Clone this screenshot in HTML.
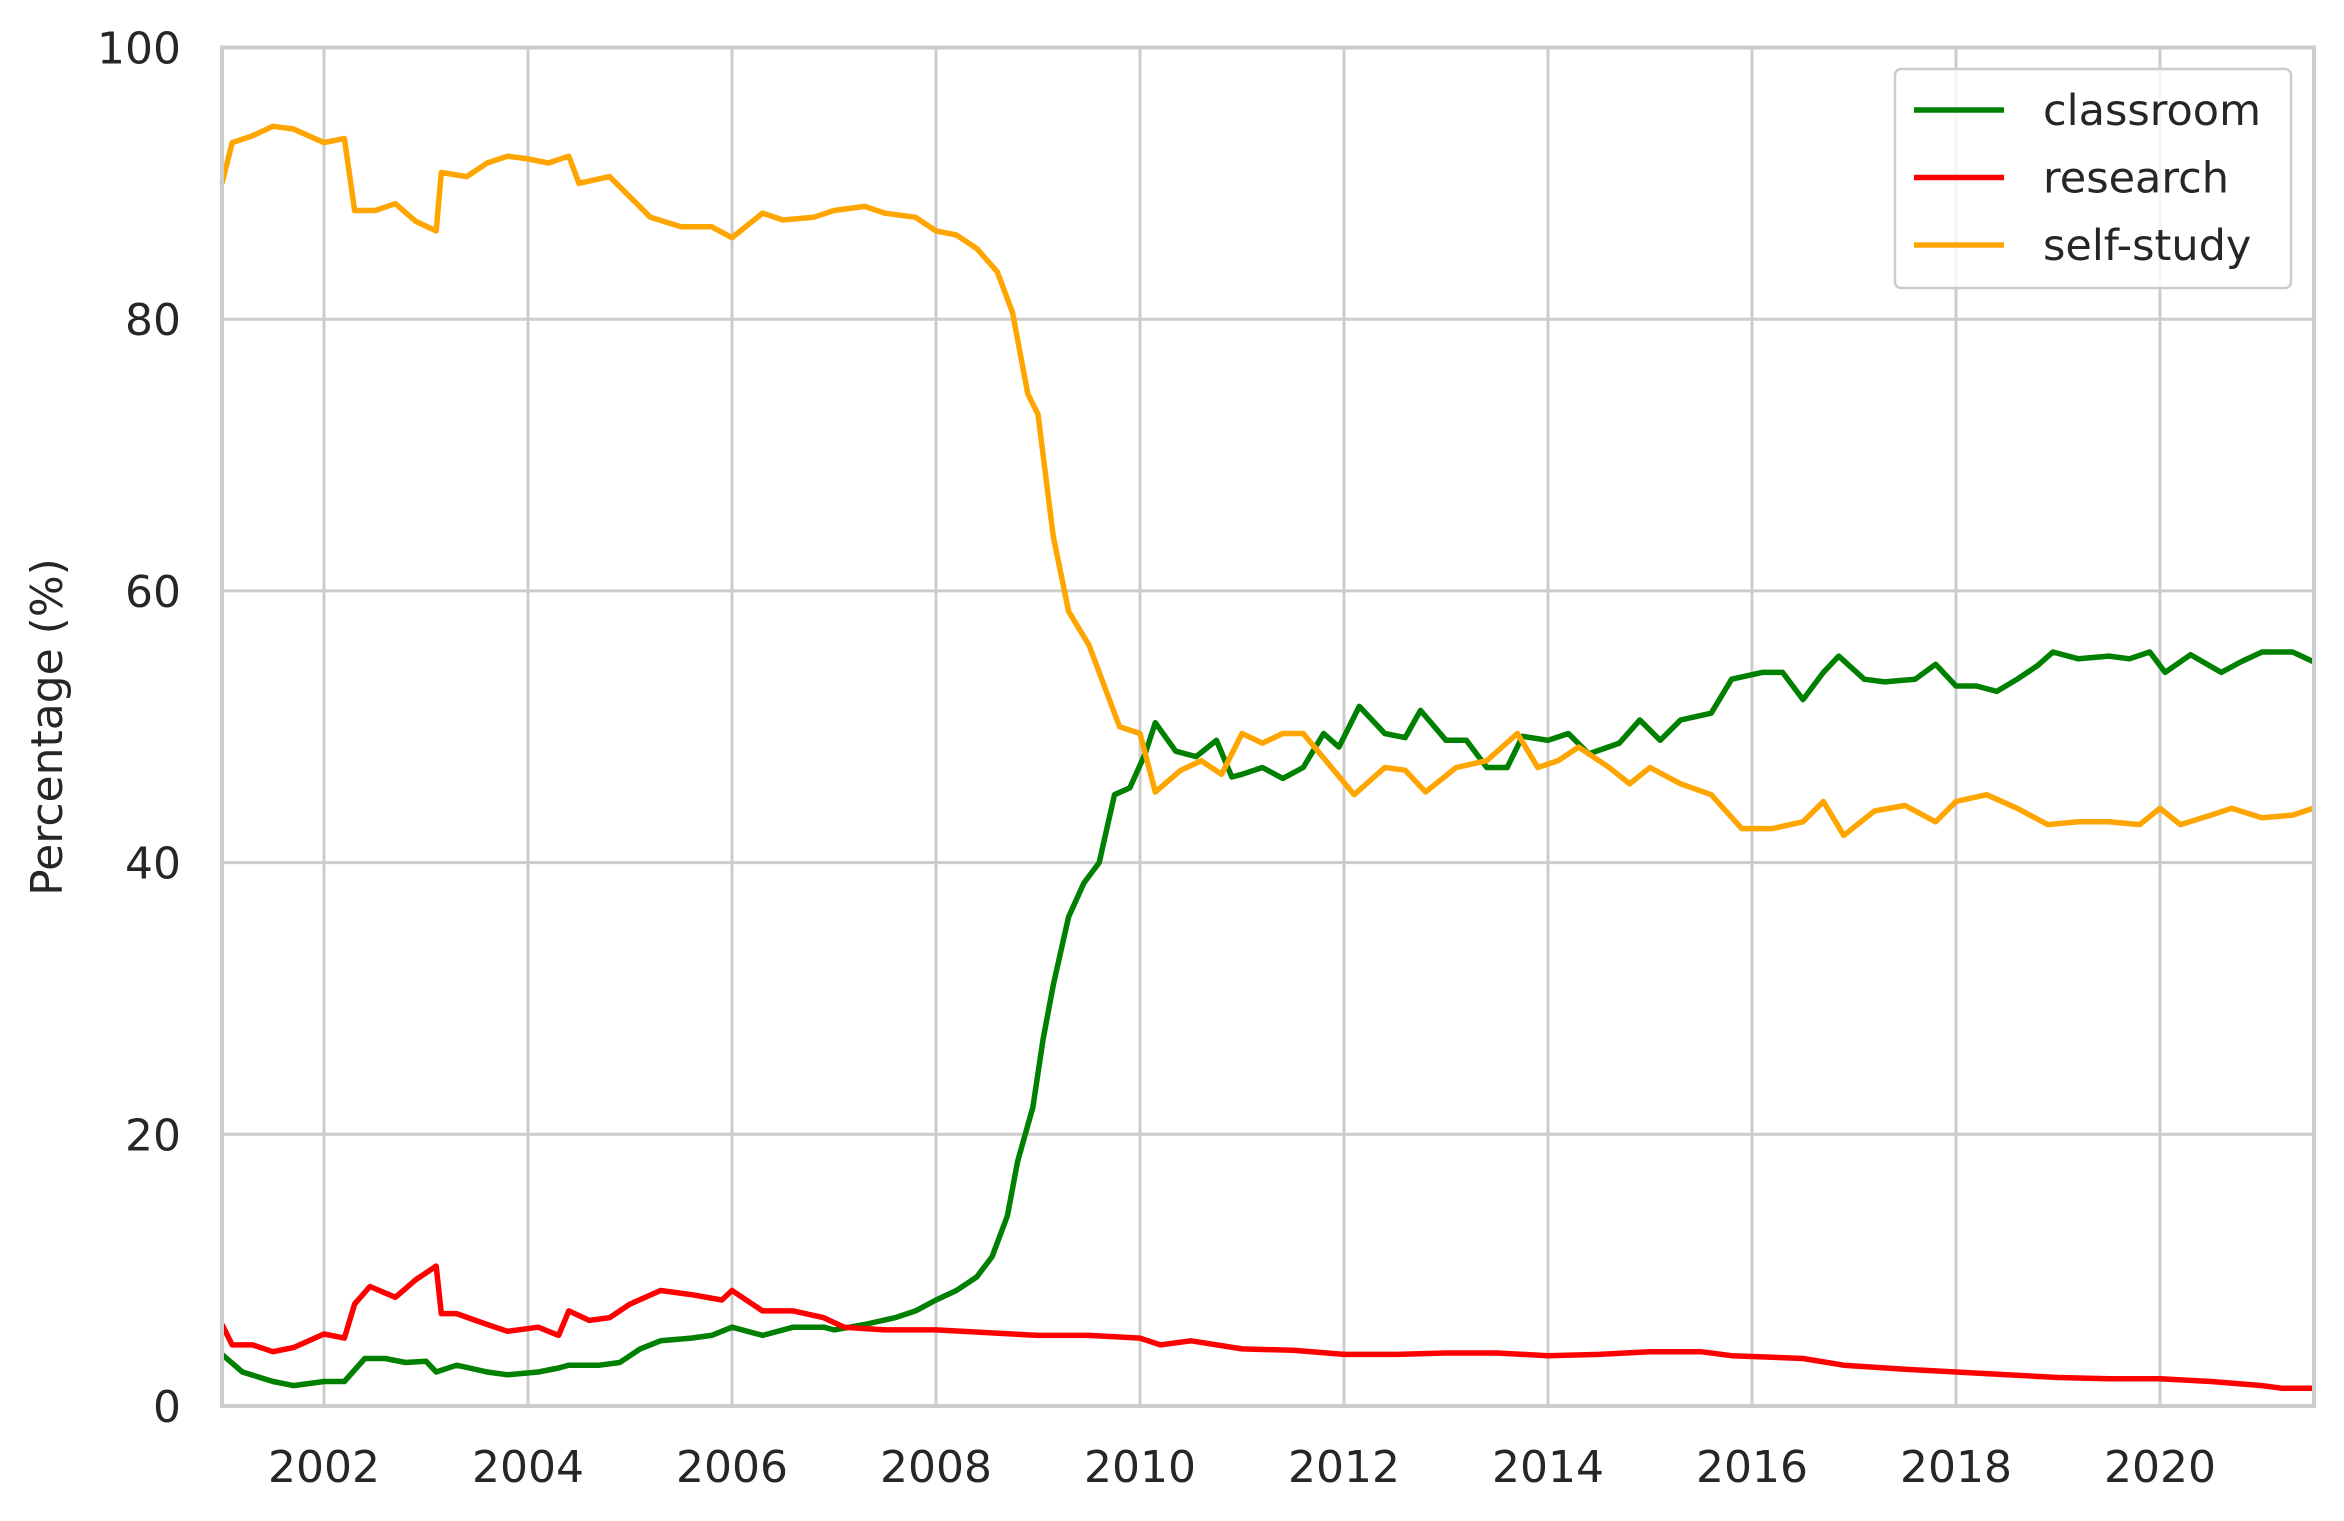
<!DOCTYPE html>
<html><head><meta charset="utf-8"><style>
html,body{margin:0;padding:0;background:#fff}
svg{display:block;font-family:"DejaVu Sans","Liberation Sans",sans-serif}
</style></head><body>
<svg id="chart" width="2344" height="1521" viewBox="0 0 2344 1521">
<g id="grid"></g>
<g id="lines"></g>
<rect x="222" y="47.5" width="2092" height="1358.5" fill="none" stroke="#cccccc" stroke-width="4"/>
<g id="ticks"></g>
<text x="62" y="727" font-size="44" fill="#262626" text-anchor="middle" transform="rotate(-90 62 727)">Percentage (%)</text>
<g id="legend">
<rect x="1904" y="69" width="396" height="219" rx="6" fill="#fff" fill-opacity="0.8" stroke="#cccccc" stroke-width="2.5"/>
</g>
</svg>
<script>
const yearTicks=[2002,2004,2006,2008,2010,2012,2014,2016,2018,2020];
const yTicks=[0,20,40,60,80,100];
const seriesNames=["classroom","research","self-study"];
const seriesColors=["green","red","orange"];
const classroomX=[2001.0,2001.2,2001.5,2001.7,2002.0,2002.2,2002.4,2002.6,2002.8,2003.0,2003.1,2003.3,2003.6,2003.8,2004.1,2004.3,2004.4,2004.7,2004.9,2005.1,2005.3,2005.6,2005.8,2006.0,2006.3,2006.6,2006.9,2007.0,2007.3,2007.6,2007.8,2008.0,2008.2,2008.4,2008.55,2008.7,2008.8,2008.95,2009.05,2009.15,2009.3,2009.45,2009.6,2009.75,2009.9,2010.05,2010.15,2010.35,2010.55,2010.75,2010.9,2011.0,2011.2,2011.4,2011.6,2011.8,2011.95,2012.15,2012.4,2012.6,2012.75,2013.0,2013.2,2013.4,2013.6,2013.75,2014.0,2014.2,2014.4,2014.7,2014.9,2015.1,2015.3,2015.6,2015.8,2016.1,2016.3,2016.5,2016.7,2016.85,2017.1,2017.3,2017.6,2017.8,2018.0,2018.2,2018.4,2018.6,2018.8,2018.95,2019.2,2019.5,2019.7,2019.9,2020.05,2020.3,2020.6,2020.8,2021.0,2021.3,2021.5];
const classroomY=[3.8,2.5,1.8,1.5,1.8,1.8,3.5,3.5,3.2,3.3,2.5,3,2.5,2.3,2.5,2.8,3,3,3.2,4.2,4.8,5,5.2,5.8,5.2,5.8,5.8,5.6,6,6.5,7,7.8,8.5,9.5,11,14,18,22,27,31,36,38.5,40,45,45.5,48,50.3,48.2,47.8,49,46.3,46.5,47,46.2,47,49.5,48.5,51.5,49.5,49.2,51.2,49,49,47,47,49.3,49,49.5,48,48.8,50.5,49,50.5,51,53.5,54,54,52,54,55.2,53.5,53.3,53.5,54.6,53,53,52.6,53.5,54.5,55.5,55,55.2,55,55.5,54,55.3,54,54.8,55.5,55.5,54.8];
const researchX=[2001.0,2001.1,2001.3,2001.5,2001.7,2002.0,2002.2,2002.3,2002.45,2002.7,2002.9,2003.1,2003.15,2003.3,2003.6,2003.8,2004.1,2004.3,2004.4,2004.6,2004.8,2005.0,2005.3,2005.6,2005.9,2006.0,2006.3,2006.6,2006.9,2007.1,2007.5,2008.0,2008.5,2009.0,2009.5,2010.0,2010.2,2010.5,2011.0,2011.5,2012.0,2012.5,2013.0,2013.5,2014.0,2014.5,2015.0,2015.5,2015.8,2016.5,2016.9,2017.5,2018.0,2018.5,2019.0,2019.5,2020.0,2020.5,2021.0,2021.2,2021.5];
const researchY=[6,4.5,4.5,4,4.3,5.3,5,7.5,8.8,8,9.3,10.3,6.8,6.8,6,5.5,5.8,5.2,7,6.3,6.5,7.5,8.5,8.2,7.8,8.5,7,7,6.5,5.8,5.6,5.6,5.4,5.2,5.2,5,4.5,4.8,4.2,4.1,3.8,3.8,3.9,3.9,3.7,3.8,4,4,3.7,3.5,3,2.7,2.5,2.3,2.1,2,2,1.8,1.5,1.3,1.3];
const selfX=[2001.0,2001.1,2001.3,2001.5,2001.7,2002.0,2002.2,2002.3,2002.5,2002.7,2002.9,2003.1,2003.15,2003.4,2003.6,2003.8,2004.0,2004.2,2004.4,2004.5,2004.8,2005.0,2005.2,2005.5,2005.8,2006.0,2006.3,2006.5,2006.8,2007.0,2007.3,2007.5,2007.8,2008.0,2008.2,2008.4,2008.6,2008.75,2008.9,2009.0,2009.15,2009.3,2009.5,2009.65,2009.8,2010.0,2010.15,2010.4,2010.6,2010.8,2011.0,2011.2,2011.4,2011.6,2011.9,2012.1,2012.4,2012.6,2012.8,2013.1,2013.4,2013.7,2013.9,2014.1,2014.3,2014.6,2014.8,2015.0,2015.3,2015.6,2015.9,2016.2,2016.5,2016.7,2016.9,2017.2,2017.5,2017.8,2018.0,2018.3,2018.6,2018.9,2019.2,2019.5,2019.8,2020.0,2020.2,2020.5,2020.7,2021.0,2021.3,2021.5];
const selfY=[90,93,93.5,94.2,94,93,93.3,88,88,88.5,87.2,86.5,90.8,90.5,91.5,92,91.8,91.5,92,90,90.5,89,87.5,86.8,86.8,86,87.8,87.3,87.5,88,88.3,87.8,87.5,86.5,86.2,85.2,83.5,80.5,74.5,73,64,58.5,56,53,50,49.5,45.2,46.8,47.5,46.5,49.5,48.8,49.5,49.5,46.8,45,47,46.8,45.2,47,47.5,49.5,47,47.5,48.5,47,45.8,47,45.8,45,42.5,42.5,43,44.5,42,43.8,44.2,43,44.5,45,44,42.8,43,43,42.8,44,42.8,43.5,44,43.3,43.5,44];
const X0=222,X1=2314,Y0=1406,Y1=47.5,T0=2001,T1=2021.51;
const sx=t=>X0+(t-T0)/(T1-T0)*(X1-X0);
const sy=v=>Y0-v/100*(Y0-Y1);
const NS="http://www.w3.org/2000/svg";
function mk(tag,attrs,parent){const e=document.createElementNS(NS,tag);for(const k in attrs)e.setAttribute(k,attrs[k]);parent.appendChild(e);return e;}
const grid=document.getElementById('grid'),ticks=document.getElementById('ticks'),lines=document.getElementById('lines'),legend=document.getElementById('legend');
legend.setAttribute('transform','translate(-9,0)');
yearTicks.forEach(t=>{
 const l=mk('line',{x1:sx(t),x2:sx(t),y1:Y1,y2:Y0,stroke:'#cccccc','stroke-width':3},grid);
 
 
 const tx=mk('text',{x:sx(t),y:1482,'font-size':44,fill:'#262626','text-anchor':'middle'},ticks);
 tx.textContent=t;
 
 
});
yTicks.forEach(v=>{
 const l=mk('line',{x1:X0,x2:X1,y1:sy(v),y2:sy(v),stroke:'#cccccc','stroke-width':3},grid);
 
 
 const tx=mk('text',{x:181,y:sy(v)+16,'font-size':44,fill:'#262626','text-anchor':'end'},ticks);
 tx.textContent=v;
 
 
});
const data=[[classroomX,classroomY],[researchX,researchY],[selfX,selfY]];
data.forEach((d,i)=>{
 const pts=d[0].map((t,j)=>sx(t).toFixed(1)+','+sy(d[1][j]).toFixed(1)).join(' ');
 const p=mk('polyline',{points:pts,fill:'none',stroke:seriesColors[i],'stroke-width':5.5,'stroke-linejoin':'round'},lines);
 
 
 const yy=110+i*67.5;
 const ll=mk('line',{x1:1923,x2:2013,y1:yy,y2:yy,stroke:seriesColors[i],'stroke-width':5.5},legend);
 
 
 const lt=mk('text',{x:2052,y:yy+15,'font-size':43,fill:'#262626'},legend);
 lt.textContent=seriesNames[i];
 
 
});
</script>
</body></html>
